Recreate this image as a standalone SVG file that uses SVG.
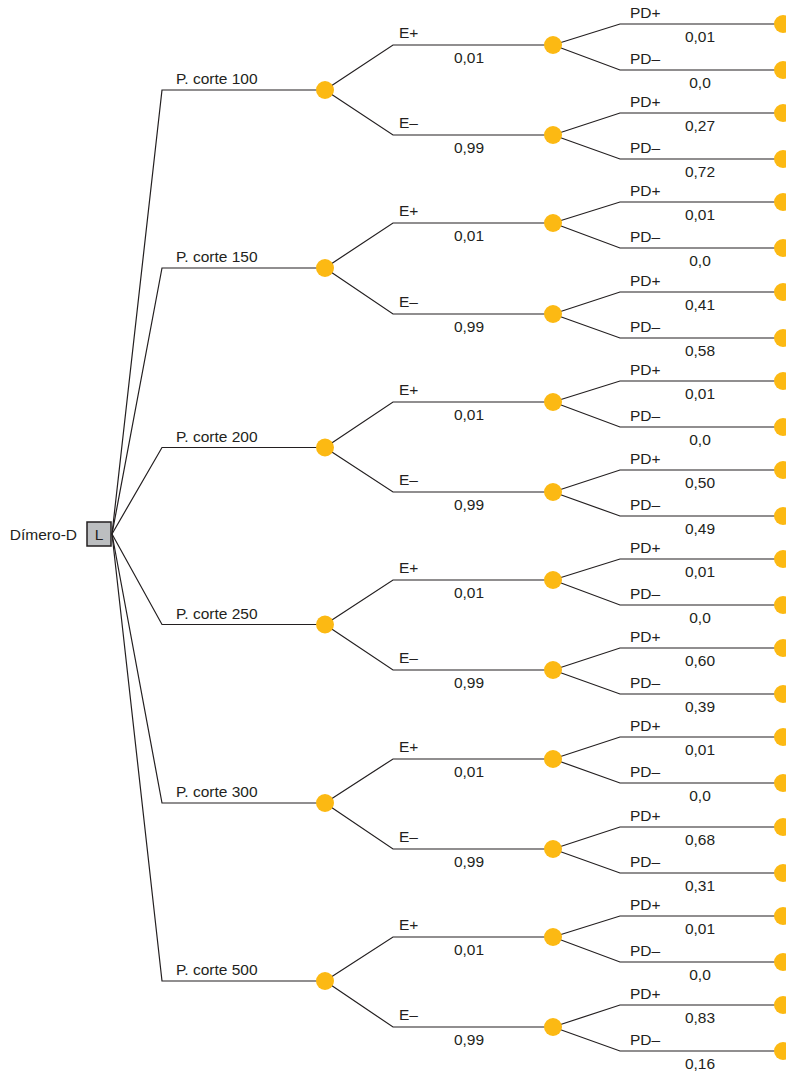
<svg xmlns="http://www.w3.org/2000/svg" width="786" height="1071" viewBox="0 0 786 1071">
<style>
.c{fill:none;stroke:#231f20;stroke-width:1.2;stroke-linejoin:miter}
.n{fill:#fcb913}
.t{font-family:"Liberation Sans",Arial,sans-serif;font-size:15.5px;fill:#231f20}
.m{text-anchor:middle}
.box{fill:#bcbec0;stroke:#231f20;stroke-width:1.5}
</style>
<rect width="786" height="1071" fill="#ffffff"/>
<g id="connectors">
<path class="c" d="M112,534 L162,90 L325,90"/>
<path class="c" d="M112,534 L162,268 L325,268"/>
<path class="c" d="M112,534 L162,447.5 L325,447.5"/>
<path class="c" d="M112,534 L162,624.5 L325,624.5"/>
<path class="c" d="M112,534 L162,803 L325,803"/>
<path class="c" d="M112,534 L162,981 L325,981"/>
<path class="c" d="M325,90 L393,45 L553,45 M325,90 L393,135 L553,135"/>
<path class="c" d="M325,268 L393,223 L553,223 M325,268 L393,314 L553,314"/>
<path class="c" d="M325,447.5 L393,402 L553,402 M325,447.5 L393,492 L553,492"/>
<path class="c" d="M325,624.5 L393,580 L553,580 M325,624.5 L393,670 L553,670"/>
<path class="c" d="M325,803 L393,759 L553,759 M325,803 L393,849 L553,849"/>
<path class="c" d="M325,981 L393,937 L553,937 M325,981 L393,1027 L553,1027"/>
<path class="c" d="M553,45 L620,24 L783,24 M553,45 L620,70 L783,70 M553,135 L620,113 L783,113 M553,135 L620,159 L783,159"/>
<path class="c" d="M553,223 L620,202 L783,202 M553,223 L620,248 L783,248 M553,314 L620,292 L783,292 M553,314 L620,338 L783,338"/>
<path class="c" d="M553,402 L620,381 L783,381 M553,402 L620,427 L783,427 M553,492 L620,470 L783,470 M553,492 L620,516 L783,516"/>
<path class="c" d="M553,580 L620,559 L783,559 M553,580 L620,605 L783,605 M553,670 L620,648 L783,648 M553,670 L620,694 L783,694"/>
<path class="c" d="M553,759 L620,737 L783,737 M553,759 L620,783 L783,783 M553,849 L620,827 L783,827 M553,849 L620,873 L783,873"/>
<path class="c" d="M553,937 L620,916 L783,916 M553,937 L620,962 L783,962 M553,1027 L620,1005 L783,1005 M553,1027 L620,1051 L783,1051"/>
</g>
<g id="labels" class="t">
<text x="176" y="84">P. corte 100</text>
<text x="176" y="262">P. corte 150</text>
<text x="176" y="441.5">P. corte 200</text>
<text x="176" y="618.5">P. corte 250</text>
<text x="176" y="797">P. corte 300</text>
<text x="176" y="975">P. corte 500</text>

<text x="399" y="38">E+</text><text class="m" x="469" y="63">0,01</text>
<text x="399" y="128">E–</text><text class="m" x="469" y="153">0,99</text>
<text x="399" y="216">E+</text><text class="m" x="469" y="241">0,01</text>
<text x="399" y="307">E–</text><text class="m" x="469" y="332">0,99</text>
<text x="399" y="395">E+</text><text class="m" x="469" y="420">0,01</text>
<text x="399" y="485">E–</text><text class="m" x="469" y="510">0,99</text>
<text x="399" y="573">E+</text><text class="m" x="469" y="598">0,01</text>
<text x="399" y="663">E–</text><text class="m" x="469" y="688">0,99</text>
<text x="399" y="752">E+</text><text class="m" x="469" y="777">0,01</text>
<text x="399" y="842">E–</text><text class="m" x="469" y="867">0,99</text>
<text x="399" y="930">E+</text><text class="m" x="469" y="955">0,01</text>
<text x="399" y="1020">E–</text><text class="m" x="469" y="1045">0,99</text>

<text x="630" y="18">PD+</text><text class="m" x="700" y="42">0,01</text>
<text x="630" y="64">PD–</text><text class="m" x="700" y="88">0,0</text>
<text x="630" y="107">PD+</text><text class="m" x="700" y="131">0,27</text>
<text x="630" y="153">PD–</text><text class="m" x="700" y="177">0,72</text>
<text x="630" y="196">PD+</text><text class="m" x="700" y="220">0,01</text>
<text x="630" y="242">PD–</text><text class="m" x="700" y="266">0,0</text>
<text x="630" y="286">PD+</text><text class="m" x="700" y="310">0,41</text>
<text x="630" y="332">PD–</text><text class="m" x="700" y="356">0,58</text>
<text x="630" y="375">PD+</text><text class="m" x="700" y="399">0,01</text>
<text x="630" y="421">PD–</text><text class="m" x="700" y="445">0,0</text>
<text x="630" y="464">PD+</text><text class="m" x="700" y="488">0,50</text>
<text x="630" y="510">PD–</text><text class="m" x="700" y="534">0,49</text>
<text x="630" y="553">PD+</text><text class="m" x="700" y="577">0,01</text>
<text x="630" y="599">PD–</text><text class="m" x="700" y="623">0,0</text>
<text x="630" y="642">PD+</text><text class="m" x="700" y="666">0,60</text>
<text x="630" y="688">PD–</text><text class="m" x="700" y="712">0,39</text>
<text x="630" y="731">PD+</text><text class="m" x="700" y="755">0,01</text>
<text x="630" y="777">PD–</text><text class="m" x="700" y="801">0,0</text>
<text x="630" y="821">PD+</text><text class="m" x="700" y="845">0,68</text>
<text x="630" y="867">PD–</text><text class="m" x="700" y="891">0,31</text>
<text x="630" y="910">PD+</text><text class="m" x="700" y="934">0,01</text>
<text x="630" y="956">PD–</text><text class="m" x="700" y="980">0,0</text>
<text x="630" y="999">PD+</text><text class="m" x="700" y="1023">0,83</text>
<text x="630" y="1045">PD–</text><text class="m" x="700" y="1069">0,16</text>
</g>
<g id="root">
<text class="t" x="77" y="540" text-anchor="end">Dímero-D</text>
<rect class="box" x="87" y="522" width="24" height="24"/>
<text class="t m" x="99" y="539.5">L</text>
</g>
<g id="c100"><circle class="n" cx="325" cy="90" r="9"/></g>
<g id="c150"><circle class="n" cx="325" cy="268" r="9"/></g>
<g id="c200"><circle class="n" cx="325" cy="447.5" r="9"/></g>
<g id="c250"><circle class="n" cx="325" cy="624.5" r="9"/></g>
<g id="c300"><circle class="n" cx="325" cy="803" r="9"/></g>
<g id="c500"><circle class="n" cx="325" cy="981" r="9"/></g>
<g id="e100p"><circle class="n" cx="553" cy="45" r="9"/></g>
<g id="e100m"><circle class="n" cx="553" cy="135" r="9"/></g>
<g id="e150p"><circle class="n" cx="553" cy="223" r="9"/></g>
<g id="e150m"><circle class="n" cx="553" cy="314" r="9"/></g>
<g id="e200p"><circle class="n" cx="553" cy="402" r="9"/></g>
<g id="e200m"><circle class="n" cx="553" cy="492" r="9"/></g>
<g id="e250p"><circle class="n" cx="553" cy="580" r="9"/></g>
<g id="e250m"><circle class="n" cx="553" cy="670" r="9"/></g>
<g id="e300p"><circle class="n" cx="553" cy="759" r="9"/></g>
<g id="e300m"><circle class="n" cx="553" cy="849" r="9"/></g>
<g id="e500p"><circle class="n" cx="553" cy="937" r="9"/></g>
<g id="e500m"><circle class="n" cx="553" cy="1027" r="9"/></g>
<g id="terminals">
<g id="t1"><circle class="n" cx="783" cy="24" r="9"/></g>
<g id="t2"><circle class="n" cx="783" cy="70" r="9"/></g>
<g id="t3"><circle class="n" cx="783" cy="113" r="9"/></g>
<g id="t4"><circle class="n" cx="783" cy="159" r="9"/></g>
<g id="t5"><circle class="n" cx="783" cy="202" r="9"/></g>
<g id="t6"><circle class="n" cx="783" cy="248" r="9"/></g>
<g id="t7"><circle class="n" cx="783" cy="292" r="9"/></g>
<g id="t8"><circle class="n" cx="783" cy="338" r="9"/></g>
<g id="t9"><circle class="n" cx="783" cy="381" r="9"/></g>
<g id="t10"><circle class="n" cx="783" cy="427" r="9"/></g>
<g id="t11"><circle class="n" cx="783" cy="470" r="9"/></g>
<g id="t12"><circle class="n" cx="783" cy="516" r="9"/></g>
<g id="t13"><circle class="n" cx="783" cy="559" r="9"/></g>
<g id="t14"><circle class="n" cx="783" cy="605" r="9"/></g>
<g id="t15"><circle class="n" cx="783" cy="648" r="9"/></g>
<g id="t16"><circle class="n" cx="783" cy="694" r="9"/></g>
<g id="t17"><circle class="n" cx="783" cy="737" r="9"/></g>
<g id="t18"><circle class="n" cx="783" cy="783" r="9"/></g>
<g id="t19"><circle class="n" cx="783" cy="827" r="9"/></g>
<g id="t20"><circle class="n" cx="783" cy="873" r="9"/></g>
<g id="t21"><circle class="n" cx="783" cy="916" r="9"/></g>
<g id="t22"><circle class="n" cx="783" cy="962" r="9"/></g>
<g id="t23"><circle class="n" cx="783" cy="1005" r="9"/></g>
<g id="t24"><circle class="n" cx="783" cy="1051" r="9"/></g>
</g>
</svg>
